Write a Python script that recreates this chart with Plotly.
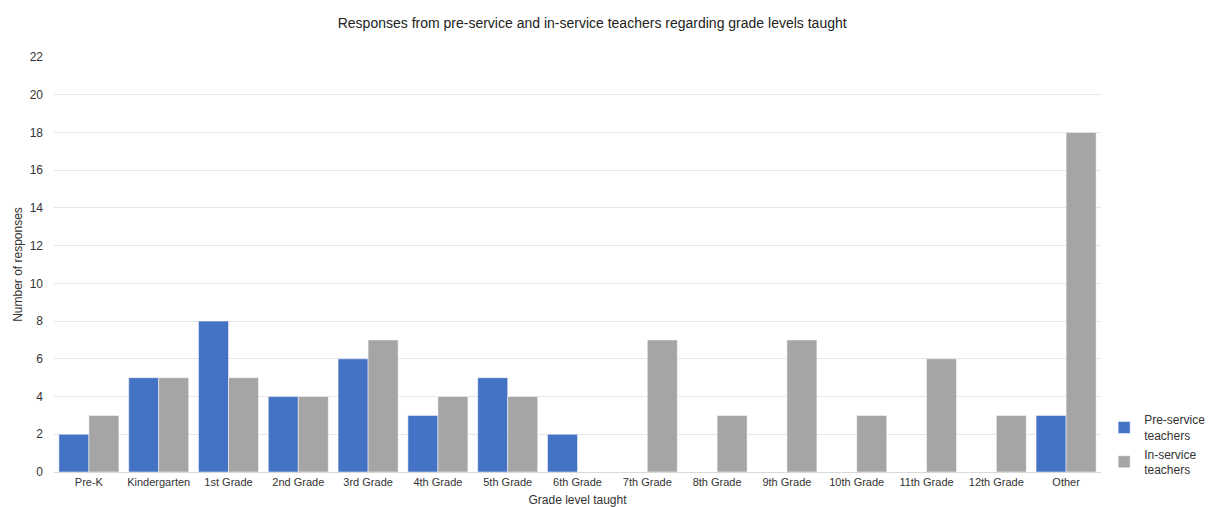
import plotly.graph_objects as go

categories = ["Pre-K", "Kindergarten", "1st Grade", "2nd Grade", "3rd Grade", "4th Grade",
              "5th Grade", "6th Grade", "7th Grade", "8th Grade", "9th Grade", "10th Grade",
              "11th Grade", "12th Grade", "Other"]
pre_service = [2, 5, 8, 4, 6, 3, 5, 2, 0, 0, 0, 0, 0, 0, 3]
in_service = [3, 5, 5, 4, 7, 4, 4, 0, 7, 3, 7, 3, 6, 3, 18]
y_ticks = list(range(0, 23, 2))

fig = go.Figure()
fig.add_trace(go.Bar(x=categories, y=pre_service, name="Pre-service<br>teachers",
                     marker=dict(color="#4472C4", line=dict(color="white", width=0.5))))
fig.add_trace(go.Bar(x=categories, y=in_service, name="In-service<br>teachers",
                     marker=dict(color="#A5A5A5", line=dict(color="white", width=0.5))))

fig.update_layout(
    width=1211, height=507,
    margin=dict(l=54, r=110, t=57, b=35, autoexpand=False),
    paper_bgcolor="white", plot_bgcolor="white",
    font=dict(family="Liberation Sans, Arial, sans-serif", color="#333333", size=11),
    title=dict(text="Responses from pre-service and in-service teachers regarding grade levels taught",
               x=0.489, xref="container", xanchor="center", y=0.965, yref="container",
               font=dict(size=14, color="#222222")),
    barmode="group", bargap=0.14, bargroupgap=0,
    legend=dict(x=1.003, y=-0.03, xanchor="left", yanchor="bottom", font=dict(size=12, color="#333333"),
                itemwidth=30, tracegroupgap=2),
    xaxis=dict(title=dict(text="Grade level taught", font=dict(size=12), standoff=8),
               showline=True, linecolor="#d9d9d9", ticks="", tickfont=dict(size=11)),
    yaxis=dict(title=dict(text="Number of responses", font=dict(size=12), standoff=4),
               range=[0, 22], tickvals=y_ticks, gridcolor="#e6e6e6", zeroline=False,
               ticks="", tickfont=dict(size=12), ticklabelstandoff=10),
)

fig.write_html("out.html")
